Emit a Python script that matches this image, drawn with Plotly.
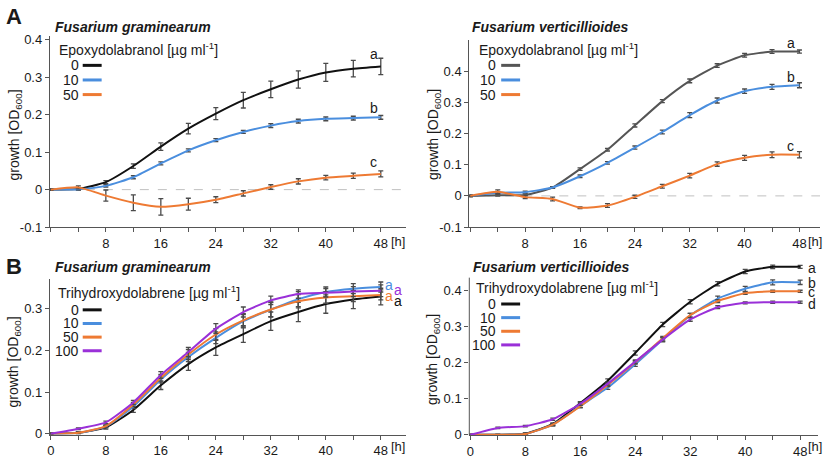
import plotly.graph_objects as go

W, H = 827, 462

hours = [0, 4, 8, 12, 16, 20, 24, 28, 32, 36, 40, 44, 48]

# Panel A left: Fusarium graminearum, Epoxydolabranol
fg_epo_0 = [0, 0.002, 0.02, 0.063, 0.115, 0.163, 0.203, 0.239, 0.268, 0.294, 0.313, 0.323, 0.329]
fg_epo_0_err = [0.002, 0.003, 0.004, 0.006, 0.010, 0.014, 0.016, 0.021, 0.022, 0.023, 0.024, 0.022, 0.022]
fg_epo_10 = [0, 0.001, 0.01, 0.033, 0.07, 0.105, 0.132, 0.154, 0.171, 0.183, 0.189, 0.191, 0.193]
fg_epo_10_err = [0.002, 0.002, 0.003, 0.004, 0.004, 0.004, 0.004, 0.004, 0.005, 0.005, 0.005, 0.005, 0.005]
fg_epo_50 = [0, 0.006, -0.016, -0.035, -0.046, -0.039, -0.027, -0.01, 0.007, 0.022, 0.032, 0.037, 0.042]
fg_epo_50_err = [0.002, 0.004, 0.015, 0.021, 0.022, 0.016, 0.008, 0.007, 0.006, 0.007, 0.006, 0.007, 0.008]

# Panel A right: Fusarium verticillioides, Epoxydolabranol
fv_epo_0 = [0, 0.002, 0.003, 0.027, 0.086, 0.148, 0.226, 0.304, 0.369, 0.418, 0.451, 0.463, 0.463]
fv_epo_0_err = [0.002, 0.003, 0.003, 0.003, 0.004, 0.004, 0.005, 0.005, 0.006, 0.006, 0.006, 0.006, 0.005]
fv_epo_10 = [0, 0.01, 0.012, 0.027, 0.063, 0.106, 0.155, 0.205, 0.259, 0.306, 0.336, 0.35, 0.355]
fv_epo_10_err = [0.002, 0.003, 0.003, 0.003, 0.004, 0.004, 0.005, 0.006, 0.008, 0.008, 0.007, 0.008, 0.008]
fv_epo_50 = [0, 0.013, -0.004, -0.01, -0.038, -0.031, -0.003, 0.031, 0.065, 0.102, 0.122, 0.132, 0.132]
fv_epo_50_err = [0.002, 0.006, 0.005, 0.006, 0.003, 0.006, 0.005, 0.006, 0.007, 0.007, 0.008, 0.009, 0.010]

# Panel B left: Fusarium graminearum, Trihydroxydolabrene
fg_tri_0 = [0, 0.002, 0.015, 0.057, 0.116, 0.167, 0.207, 0.239, 0.27, 0.292, 0.311, 0.322, 0.329]
fg_tri_0_err = [0.001, 0.002, 0.004, 0.006, 0.010, 0.015, 0.019, 0.020, 0.022, 0.023, 0.022, 0.022, 0.020]
fg_tri_10 = [0, 0.002, 0.017, 0.065, 0.13, 0.184, 0.23, 0.27, 0.298, 0.323, 0.34, 0.348, 0.352]
fg_tri_10_err = [0.001, 0.002, 0.003, 0.005, 0.008, 0.011, 0.014, 0.016, 0.018, 0.018, 0.012, 0.012, 0.012]
fg_tri_50 = [0, 0.002, 0.018, 0.07, 0.134, 0.19, 0.238, 0.272, 0.298, 0.318, 0.327, 0.33, 0.333]
fg_tri_50_err = [0.001, 0.002, 0.003, 0.005, 0.008, 0.012, 0.014, 0.016, 0.017, 0.016, 0.014, 0.013, 0.012]
fg_tri_100 = [0, 0.012, 0.027, 0.075, 0.141, 0.196, 0.252, 0.292, 0.32, 0.335, 0.338, 0.341, 0.343]
fg_tri_100_err = [0.001, 0.002, 0.003, 0.005, 0.008, 0.011, 0.012, 0.012, 0.010, 0.010, 0.010, 0.012, 0.014]

# Panel B right: Fusarium verticillioides, Trihydroxydolabrene
fv_tri_0 = [0, 0, 0.003, 0.03, 0.088, 0.15, 0.227, 0.306, 0.369, 0.419, 0.453, 0.466, 0.466]
fv_tri_0_err = [0.001, 0.001, 0.002, 0.003, 0.004, 0.005, 0.006, 0.006, 0.006, 0.006, 0.006, 0.005, 0.004]
fv_tri_10 = [0, 0, 0.002, 0.028, 0.08, 0.131, 0.196, 0.264, 0.331, 0.378, 0.405, 0.423, 0.423]
fv_tri_10_err = [0.001, 0.001, 0.002, 0.003, 0.004, 0.005, 0.006, 0.006, 0.006, 0.007, 0.007, 0.007, 0.006]
fv_tri_50 = [0, 0, 0.002, 0.028, 0.079, 0.138, 0.201, 0.268, 0.332, 0.371, 0.393, 0.398, 0.398]
fv_tri_50_err = [0.001, 0.001, 0.002, 0.003, 0.004, 0.004, 0.005, 0.005, 0.005, 0.004, 0.003, 0.003, 0.003]
fv_tri_100 = [0, 0.019, 0.024, 0.043, 0.086, 0.142, 0.203, 0.264, 0.32, 0.354, 0.366, 0.368, 0.368]
fv_tri_100_err = [0.001, 0.002, 0.002, 0.003, 0.004, 0.004, 0.005, 0.005, 0.005, 0.004, 0.003, 0.003, 0.003]

conc_epo = ["0", "10", "50"]
conc_tri = ["0", "10", "50", "100"]
x_tick_vals = [0, 4, 8, 12, 16, 20, 24, 28, 32, 36, 40, 44, 48]
x_tick_text_top = ["", "", "8", "", "16", "", "24", "", "32", "", "40", "", "48"]
x_tick_text_bot = ["0", "", "8", "", "16", "", "24", "", "32", "", "40", "", "48"]

BLACK = "#111111"
GREY = "#555555"
BLUE = "#4a8ede"
ORANGE = "#ee7a33"
PURPLE = "#9a30d8"
ERR = "#4a4a4a"
FONT = "Liberation Sans, Arial, sans-serif"


def px(x):
    return x / W


def py(y):
    return 1 - y / H


fig = go.Figure()


def add(xa, ya, vals, errs, color):
    fig.add_trace(go.Scatter(
        x=hours, y=vals, mode="lines", xaxis=xa, yaxis=ya,
        line=dict(color=color, width=2, shape="spline", smoothing=0.5),
        error_y=dict(type="data", array=errs, visible=True, color=ERR, thickness=1.3, width=2.5),
        showlegend=False, hoverinfo="x+y",
    ))


add("x", "y", fg_epo_0, fg_epo_0_err, BLACK)
add("x", "y", fg_epo_10, fg_epo_10_err, BLUE)
add("x", "y", fg_epo_50, fg_epo_50_err, ORANGE)

add("x2", "y2", fv_epo_0, fv_epo_0_err, GREY)
add("x2", "y2", fv_epo_10, fv_epo_10_err, BLUE)
add("x2", "y2", fv_epo_50, fv_epo_50_err, ORANGE)

add("x3", "y3", fg_tri_0, fg_tri_0_err, BLACK)
add("x3", "y3", fg_tri_10, fg_tri_10_err, BLUE)
add("x3", "y3", fg_tri_50, fg_tri_50_err, ORANGE)
add("x3", "y3", fg_tri_100, fg_tri_100_err, PURPLE)

add("x4", "y4", fv_tri_0, fv_tri_0_err, BLACK)
add("x4", "y4", fv_tri_10, fv_tri_10_err, BLUE)
add("x4", "y4", fv_tri_50, fv_tri_50_err, ORANGE)
add("x4", "y4", fv_tri_100, fv_tri_100_err, PURPLE)

axis_common = dict(
    showgrid=False, zeroline=False, showline=True, linecolor=GREY, linewidth=1,
    ticks="outside", tickcolor=GREY, tickwidth=1,
    tickfont=dict(family=FONT, size=13, color="#1a1a1a"),
)


def xax(dom, rng, texts, anchor):
    return dict(axis_common, domain=dom, range=rng, tickvals=x_tick_vals,
                ticktext=texts, ticklen=4, anchor=anchor)


def yax(dom, rng, vals, texts, anchor, showline=True):
    return dict(axis_common, domain=dom, range=rng, tickvals=vals,
                ticktext=texts, ticklen=4, anchor=anchor, showline=showline)


top_y_vals = [-0.1, 0, 0.1, 0.2, 0.3, 0.4]
top_y_text = ["-0.1", "0", "0.1", "0.2", "0.3", "0.4"]

# panel B right: data rises above the drawn axis line, so the plot area is taller
br_top_val = 0.48
br_axis_top = 0.436
br_px_per_unit = 370.0
br_top_px = 443 - (br_top_val + 0.002) * br_px_per_unit

fig.update_layout(
    width=W, height=H, margin=dict(l=0, r=0, t=0, b=0),
    paper_bgcolor="white", plot_bgcolor="white",
    font=dict(family=FONT, color="#1a1a1a"),
    xaxis=xax([px(47), px(404)], [-0.15, 51.6], x_tick_text_top, "y"),
    yaxis=yax([py(229), py(33)], [-0.1, 0.41], top_y_vals, top_y_text, "x"),
    xaxis2=xax([px(468), px(820)], [-0.15, 51.0], x_tick_text_top, "y2"),
    yaxis2=yax([py(229), py(37)], [-0.1, 0.5], top_y_vals, top_y_text, "x2"),
    xaxis3=xax([px(47), px(404)], [-0.15, 51.6], x_tick_text_bot, "y3"),
    yaxis3=yax([py(442), py(282)], [-0.002, 0.372], [0, 0.1, 0.2, 0.3], ["0", "0.1", "0.2", "0.3"], "x3"),
    xaxis4=xax([px(468), px(818)], [-0.15, 50.6], x_tick_text_bot, "y4"),
    yaxis4=yax([py(443), py(br_top_px)], [-0.002, br_top_val], [0, 0.1, 0.2, 0.3, 0.4],
               ["0", "0.1", "0.2", "0.3", "0.4"], "x4", showline=False),
)

shapes = []
# dashed zero lines in panel A
for xr, yr in [("x", "y"), ("x2", "y2")]:
    shapes.append(dict(type="line", xref=xr + " domain", yref=yr, x0=0, x1=1, y0=0, y1=0,
                       line=dict(color="#c0c0c0", width=1, dash="dash"), layer="below"))
# shortened y axis line for panel B right
shapes.append(dict(type="line", xref="x4 domain", yref="y4", x0=0, x1=0, y0=-0.002, y1=br_axis_top,
                   line=dict(color=GREY, width=1)))

annotations = []


def ann(text, x, y, size=14, xanchor="center", yanchor="middle", color="#1a1a1a", **kw):
    annotations.append(dict(text=text, x=x, y=y, xref="paper", yref="paper", showarrow=False,
                            xanchor=xanchor, yanchor=yanchor,
                            font=dict(family=FONT, size=size, color=color), **kw))


# panel letters
ann("<b>A</b>", px(1), py(13), size=22, xanchor="left")
ann("<b>B</b>", px(1), py(270), size=22, xanchor="left")

# panel titles
ann("<b><i>Fusarium graminearum</i></b>", px(50), py(24), size=14, xanchor="left")
ann("<b><i>Fusarium verticillioides</i></b>", px(469), py(24), size=14, xanchor="left")
ann("<b><i>Fusarium graminearum</i></b>", px(50), py(270), size=14, xanchor="left")
ann("<b><i>Fusarium verticillioides</i></b>", px(470), py(270), size=14, xanchor="left")

# y axis titles
ytitle = "growth [OD<sub>600</sub>]"
ann(ytitle, px(12), py(134), textangle=-90)
ann(ytitle, px(432), py(134), textangle=-90)
ann(ytitle, px(12), py(367), textangle=-90)
ann(ytitle, px(431), py(365), textangle=-90)

# [h] labels
for xx, yy in [(396, 244), (815, 244), (396, 454), (815, 454)]:
    ann("[h]", px(xx), py(yy), size=13)


def legend(title, title_xy, labels, colors, num_right, line_x0, line_x1, ys):
    ann(title, px(title_xy[0]), py(title_xy[1]), xanchor="left")
    for lab, col, yy in zip(labels, colors, ys):
        ann(lab, px(num_right), py(yy), xanchor="right")
        shapes.append(dict(type="line", xref="paper", yref="paper",
                           x0=px(line_x0), x1=px(line_x1), y0=py(yy), y1=py(yy),
                           line=dict(color=col, width=3)))


epo_title = "Epoxydolabranol [µg ml<sup>-1</sup>]"
tri_title = "Trihydroxydolabrene [µg ml<sup>-1</sup>]"
legend(epo_title, (54, 46), conc_epo, [BLACK, BLUE, ORANGE], 78, 80, 99, [63, 78, 93])
legend(epo_title, (476, 46), conc_epo, [GREY, BLUE, ORANGE], 497, 500, 519, [63, 78, 93])
legend(tri_title, (53, 296), conc_tri, [BLACK, BLUE, ORANGE, PURPLE], 78, 80, 99, [314, 328, 342, 356])
legend(tri_title, (473, 291), conc_tri, [BLACK, BLUE, ORANGE, PURPLE], 497, 500, 519, [308, 322, 336, 350])


# significance letters (data coordinates)
def sig(text, xa, ya, x, y, color="#1a1a1a", xanchor="center"):
    annotations.append(dict(text=text, x=x, y=y, xref=xa, yref=ya, showarrow=False,
                            xanchor=xanchor, yanchor="middle",
                            font=dict(family=FONT, size=14, color=color)))


sig("a", "x", "y", 47, 0.362)
sig("b", "x", "y", 47, 0.219)
sig("c", "x", "y", 47, 0.073)
sig("a", "x2", "y2", 46.7, 0.492)
sig("b", "x2", "y2", 46.7, 0.381)
sig("c", "x2", "y2", 46.7, 0.159)
sig("a", "x3", "y3", 48.3, 0.356, color=BLUE, xanchor="left")
sig("a", "x3", "y3", 49.7, 0.344, color=PURPLE, xanchor="left")
sig("a", "x3", "y3", 48.3, 0.331, color=ORANGE, xanchor="left")
sig("a", "x3", "y3", 49.7, 0.319, color=BLACK, xanchor="left")
sig("a", "x4", "y4", 48.9, 0.464, xanchor="left")
sig("b", "x4", "y4", 48.9, 0.422, xanchor="left")
sig("c", "x4", "y4", 48.9, 0.396, xanchor="left")
sig("d", "x4", "y4", 48.9, 0.363, xanchor="left")

fig.update_layout(shapes=shapes, annotations=annotations)

fig.write_html("out.html", config={"displayModeBar": False},
               post_script="document.body.style.margin='0';document.body.style.overflow='hidden';")
